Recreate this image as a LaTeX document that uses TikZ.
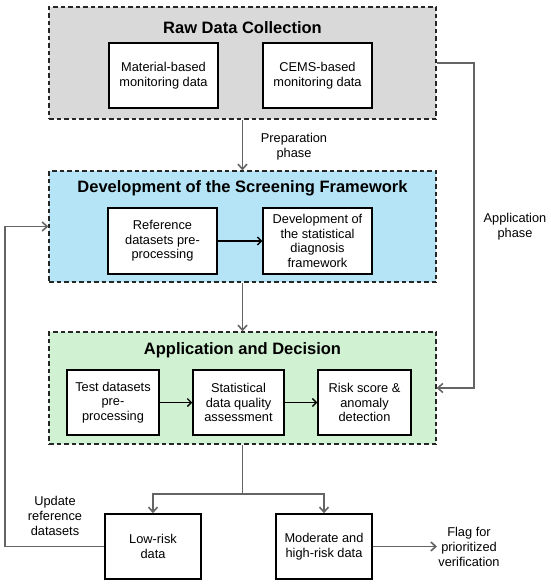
\documentclass[tikz,border=0pt]{standalone}
\usepackage{fontspec}
\setmainfont{Liberation Sans}
\usetikzlibrary{arrows.meta}
\definecolor{panelgray}{RGB}{217,217,217}
\definecolor{panelblue}{RGB}{180,228,245}
\definecolor{panelgreen}{RGB}{208,241,210}
\definecolor{conngray}{RGB}{100,100,100}
\begin{document}
\begin{tikzpicture}[x=1pt,y=-1pt,
  panel/.style={draw=black!85,line width=1.3pt,dash pattern=on 4.5pt off 3pt,minimum width=387pt,inner sep=0pt},
  ptitle/.style={font=\fontsize{16.5}{18}\selectfont\bfseries},
  inbox/.style={draw=black,fill=white,line width=1.5pt,align=center,inner sep=0pt,minimum height=65pt,font=\fontsize{12.8}{14.6}\selectfont},
  lbl/.style={align=center,font=\fontsize{12.8}{14.8}\selectfont},
  conn/.style={draw=conngray,line width=1.6pt},
  garrow/.style={conn,-{Straight Barb[length=5pt,width=9pt,line width=1.6pt]}},
  barrow/.style={draw=black,line width=1.3pt,-{Straight Barb[length=4pt,width=8pt,line width=1.3pt]}}]
\path[use as bounding box] (0,0) rectangle (550,585);

% panels
\node[panel,fill=panelgray,minimum height=112pt] (gray) at (242.5,63) {};
\node[panel,fill=panelblue,minimum height=111pt] (blue) at (242.5,226.5) {};
\node[panel,fill=panelgreen,minimum height=112pt] (green) at (242.5,388) {};

% titles
\node[ptitle] (t1) at (242.5,28) {Raw Data Collection};
\node[ptitle] (t2) at (242.5,188) {Development of the Screening Framework};
\node[ptitle] (t3) at (242.5,350) {Application and Decision};

% boxes
\node[inbox,minimum width=109pt] (mat) at (163.5,75.5) {Material-based\\monitoring data};
\node[inbox,minimum width=109pt] (cems) at (317.5,75.5) {CEMS-based\\monitoring data};
\node[inbox,minimum width=109pt,minimum height=66pt] (ref) at (162.5,241) {Reference\\datasets pre-\\processing};
\node[inbox,minimum width=109pt,minimum height=66pt] (dev) at (317.5,241) {Development of\\the statistical\\diagnosis\\framework};
\node[inbox,minimum width=92pt] (test) at (113,402.5) {Test datasets\\pre-\\processing};
\node[inbox,minimum width=91pt] (stat) at (238.5,402.5) {Statistical\\data quality\\assessment};
\node[inbox,minimum width=93pt] (risk) at (364.5,402.5) {Risk score \&\\anomaly\\detection};
\node[inbox,minimum width=96pt] (low) at (153,546.5) {Low-risk\\data};
\node[inbox,minimum width=96pt] (mod) at (324,546.5) {Moderate and\\high-risk data};

% labels
\node[lbl] (prep) at (294,147) {Preparation\\phase};
\node[lbl] (appl) at (515,226.5) {Application\\phase};
\node[lbl] (upd) at (55,516) {Update\\reference\\datasets};
\node[lbl] (flag) at (469,547) {Flag for\\prioritized\\verification};

% coordinates
\coordinate (appc) at (474,63);
\coordinate (split) at (242.5,494);
\coordinate (fbc) at (5,546.5);
\coordinate (flagend) at (437,546.5);

% connectors
\draw[garrow] (gray.south) -- (blue.north);
\draw[garrow] (blue.south) -- (green.north);
\draw[garrow] (gray.east) -- (appc) |- (green.east);
\draw[barrow] (ref.east) -- (dev.west);
\draw[barrow] (test.east) -- (stat.west);
\draw[barrow] (stat.east) -- (risk.west);
\draw[conn] (green.south) -- (split);
\draw[garrow] (split) -| (low.north);
\draw[garrow] (split) -| (mod.north);
\draw[garrow] (low.west) -- (fbc) |- (blue.west);
\draw[garrow] (mod.east) -- (flagend);
\end{tikzpicture}
\end{document}
